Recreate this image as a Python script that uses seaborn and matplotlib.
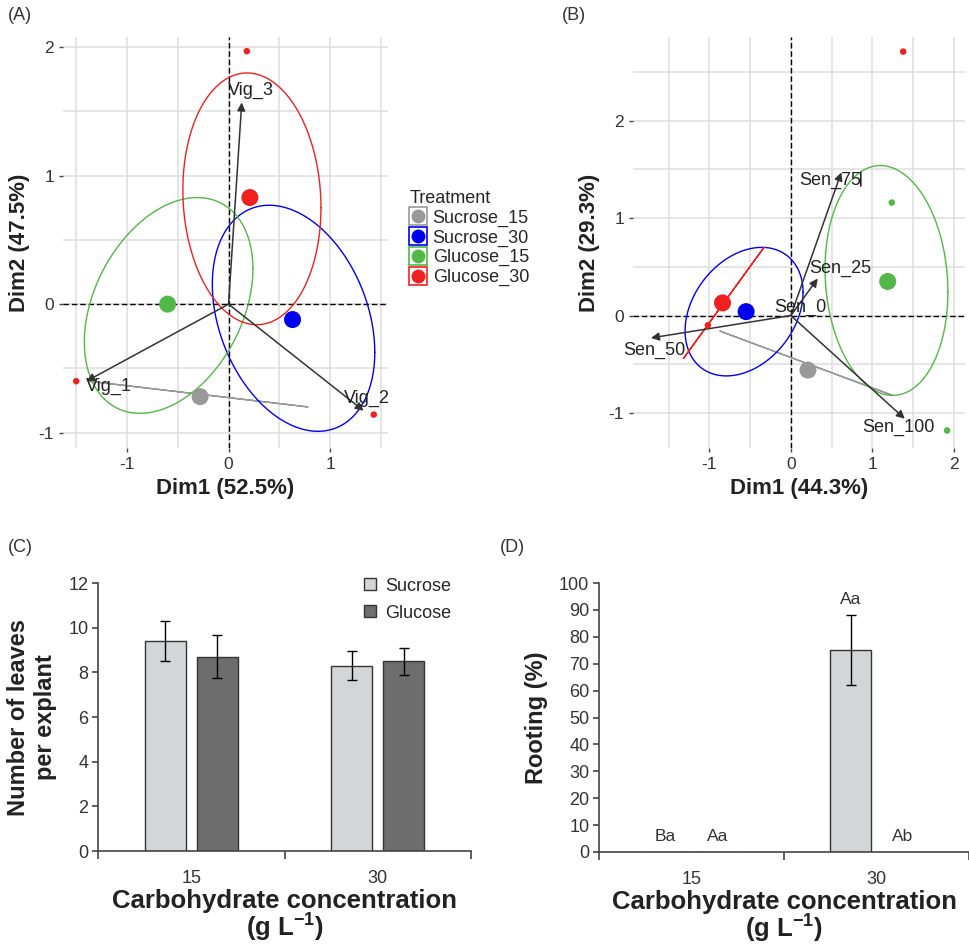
import numpy as np
import pandas as pd
import matplotlib.pyplot as plt
import seaborn as sns
from matplotlib.lines import Line2D
from matplotlib.ticker import MultipleLocator, FixedLocator

sns.set_theme(style="white")
plt.rcParams['font.family'] = ['Liberation Sans', 'DejaVu Sans']
plt.rcParams['mathtext.default'] = 'regular'
plt.rcParams['axes.unicode_minus'] = False

# treatments / colours shared by the PCA panels
treatments = ["Sucrose_15", "Sucrose_30", "Glucose_15", "Glucose_30"]
trt_colors = ["#999999", "#0000f0", "#52b848", "#f02020"]

# panel A - PCA (vigour)
a_mean_x = [-0.28, 0.63, -0.60, 0.21]
a_mean_y = [-0.72, -0.12, 0.00, 0.83]
a_obs_trt = ["Glucose_30", "Glucose_30", "Glucose_30"]
a_obs_x = [0.18, -1.50, 1.43]
a_obs_y = [1.97, -0.60, -0.86]
a_var_names = ["Vig_1", "Vig_2", "Vig_3"]
a_var_x = [-1.40, 1.33, 0.13]
a_var_y = [-0.60, -0.83, 1.57]
# concentration ellipses: centre, half range in x / y, correlation
a_ell_cx = [-0.30, 0.64, -0.59, 0.23]
a_ell_cy = [-0.70, -0.11, -0.01, 0.82]
a_ell_sx = [1.08, 0.80, 0.83, 0.68]
a_ell_sy = [0.10, 0.88, 0.84, 0.98]
a_ell_r = [-1.0, -0.30, 0.34, -0.07]

# panel B - PCA (senescence)
b_mean_x = [0.21, -0.55, 1.19, -0.84]
b_mean_y = [-0.56, 0.04, 0.35, 0.13]
b_obs_trt = ["Glucose_15", "Glucose_15", "Glucose_30", "Glucose_30"]
b_obs_x = [1.24, 1.92, 1.38, -1.02]
b_obs_y = [1.16, -1.18, 2.71, -0.10]
b_var_names = ["Sen_0", "Sen_25", "Sen_50", "Sen_75", "Sen_100"]
b_var_x = [0.0, 0.33, -1.72, 0.62, 1.40]
b_var_y = [0.0, 0.38, -0.23, 1.47, -1.06]
b_ell_cx = [0.19, -0.575, 1.175, -0.825]
b_ell_cy = [-0.49, 0.04, 0.36, 0.13]
b_ell_sx = [1.06, 0.725, 0.755, 0.495]
b_ell_sy = [0.33, 0.66, 1.18, 0.57]
b_ell_r = [-1.0, 0.30, -0.10, 1.0]

# panel C / D - bar charts
conc = ["15", "30"]
sugars = ["Sucrose", "Glucose"]
sugar_colors = ["#d4d5d7", "#6e6d6e"]
leaves_sucrose = [9.4, 8.3]
leaves_glucose = [8.7, 8.5]
leaves_err_sucrose = [0.9, 0.65]
leaves_err_glucose = [0.95, 0.6]
rooting_sucrose = [0, 75]
rooting_glucose = [0, 0]
rooting_err_sucrose = [0, 13]
rooting_err_glucose = [0, 0]
rooting_letters_sucrose = ["Ba", "Aa"]
rooting_letters_glucose = ["Aa", "Ab"]

fig = plt.figure(figsize=(9.7, 9.49), dpi=100)
W, H = 970, 949


def px_axes(l, t, r, b):
    return fig.add_axes([l / W, 1 - b / H, (r - l) / W, (b - t) / H])


def pca_panel(ax, mx, my, ox, oy, otrt, vnames, vx, vy, ecx, ecy, esx, esy, er,
              xlim, ylim, xlab, ylab, lab_off):
    pal = dict(zip(treatments, trt_colors))
    ax.set_facecolor("white")
    ax.set_xlim(*xlim)
    ax.set_ylim(*ylim)
    ax.xaxis.set_major_locator(MultipleLocator(1))
    ax.yaxis.set_major_locator(MultipleLocator(1))
    ax.xaxis.set_minor_locator(MultipleLocator(0.5))
    ax.yaxis.set_minor_locator(MultipleLocator(0.5))
    ax.grid(True, which="both", color="#dedede", lw=1.1)
    ax.set_axisbelow(True)
    for s in ax.spines.values():
        s.set_visible(False)
    ax.tick_params(axis="both", which="major", length=3, width=1, color="#444",
                   labelsize=12.5, labelcolor="#333", bottom=True, left=True)
    ax.tick_params(axis="both", which="minor", length=0)
    ax.axhline(0, color="black", lw=1, ls=(0, (4, 2)), zorder=1)
    ax.axvline(0, color="black", lw=1, ls=(0, (4, 2)), zorder=1)

    t = np.linspace(0, 2 * np.pi, 300)
    for i, trt in enumerate(treatments):
        r = er[i]
        ex = ecx[i] + esx[i] * np.cos(t)
        ey = ecy[i] + esy[i] * (r * np.cos(t) + np.sqrt(max(0, 1 - r * r)) * np.sin(t))
        ax.plot(ex, ey, color=pal[trt], lw=1.0, zorder=2)

    for name, x, y in zip(vnames, vx, vy):
        if abs(x) + abs(y) > 0.05:
            ax.annotate("", xy=(x, y), xytext=(0, 0),
                        arrowprops=dict(arrowstyle="-|>", color="#333", lw=1.1,
                                        mutation_scale=12, shrinkA=0, shrinkB=0),
                        zorder=3)
        dx, dy = lab_off[name]
        ax.annotate(name, xy=(x, y), xytext=(dx, dy), textcoords="offset points",
                    ha="left", va="center", fontsize=13, color="#222", zorder=4)

    obs = pd.DataFrame({"x": ox, "y": oy, "trt": otrt})
    sns.scatterplot(data=obs, x="x", y="y", hue="trt", palette=pal, s=22,
                    linewidth=0, legend=False, ax=ax, zorder=5)
    means = pd.DataFrame({"x": mx, "y": my, "trt": treatments})
    sns.scatterplot(data=means, x="x", y="y", hue="trt", palette=pal, s=150,
                    linewidth=0, legend=False, ax=ax, zorder=6)
    ax.set_xlabel(xlab, fontsize=16, fontweight="bold", color="#222", labelpad=4)
    ax.set_ylabel(ylab, fontsize=16, fontweight="bold", color="#222", labelpad=6)


axA = px_axes(63, 37, 388, 448)
pca_panel(axA, a_mean_x, a_mean_y, a_obs_x, a_obs_y, a_obs_trt,
          a_var_names, a_var_x, a_var_y,
          a_ell_cx, a_ell_cy, a_ell_sx, a_ell_sy, a_ell_r,
          (-1.63, 1.57), (-1.12, 2.08), "Dim1 (52.5%)", "Dim2 (47.5%)",
          {"Vig_1": (0, -4), "Vig_2": (-14, 9), "Vig_3": (-10, 9)})

axB = px_axes(633, 37, 965, 448)
pca_panel(axB, b_mean_x, b_mean_y, b_obs_x, b_obs_y, b_obs_trt,
          b_var_names, b_var_x, b_var_y,
          b_ell_cx, b_ell_cy, b_ell_sx, b_ell_sy, b_ell_r,
          (-1.94, 2.14), (-1.36, 2.86), "Dim1 (44.3%)", "Dim2 (29.3%)",
          {"Sen_0": (-12, 6), "Sen_25": (-6, 7), "Sen_50": (-20, -9),
           "Sen_75": (-30, -6), "Sen_100": (-31, -6.5)})
axB.annotate("", xy=(0.86, 1.50), xytext=(0.86, 1.30),
             arrowprops=dict(arrowstyle="-", color="black", lw=1))

# treatment legend between the two PCA panels
handles = [(Line2D([], [], marker="s", ls="", ms=13, mfc="white", mec=c, mew=1.2),
            Line2D([], [], marker="o", ls="", ms=9, mfc=c, mec=c))
           for c in trt_colors]
fig.legend(handles, treatments, title="Treatment", loc="upper left",
           bbox_to_anchor=(402 / W, 1 - 183 / H), frameon=False, fontsize=13,
           title_fontsize=13, alignment="left", handlelength=1.0,
           handletextpad=0.3, labelspacing=0.14, borderaxespad=0)


def bar_panel(ax, suc, glu, esuc, eglu, ymax, ystep, ylab, legend):
    df = pd.DataFrame({"conc": conc * 2, "sugar": ["Sucrose"] * 2 + ["Glucose"] * 2,
                       "val": suc + glu})
    sns.barplot(data=df, x="conc", y="val", hue="sugar", hue_order=sugars,
                palette=sugar_colors, width=0.56, gap=0.21, edgecolor="#333",
                linewidth=1, errorbar=None, ax=ax, legend=legend, zorder=2)
    for cont, errs in zip(ax.containers, [esuc, eglu]):
        for bar, e in zip(cont, errs):
            if e > 0:
                ax.errorbar(bar.get_x() + bar.get_width() / 2, bar.get_height(),
                            yerr=e, color="black", lw=1, capsize=3.5,
                            capthick=1, zorder=3)
    ax.set_facecolor("white")
    ax.set_xlim(-0.5, 1.5)
    ax.set_ylim(0, ymax)
    ax.yaxis.set_major_locator(MultipleLocator(ystep))
    ax.xaxis.set_minor_locator(FixedLocator([-0.5, 0.5, 1.5]))
    for s in ["top", "right"]:
        ax.spines[s].set_visible(False)
    for s in ["left", "bottom"]:
        ax.spines[s].set_color("#444")
        ax.spines[s].set_linewidth(1.2)
    ax.tick_params(axis="y", length=4, width=1.2, color="#444", labelsize=13,
                   labelcolor="#333", left=True, pad=3)
    ax.tick_params(axis="x", which="major", length=0, labelsize=13,
                   labelcolor="#333", pad=14)
    ax.tick_params(axis="x", which="minor", length=6, width=1.2, color="#444",
                   bottom=True)
    ax.set_xlabel("Carbohydrate concentration\n(g L$^{-1}$)", fontsize=18.5,
                  fontweight="bold", color="#222", labelpad=1, linespacing=0.95)
    ax.set_ylabel(ylab, fontsize=17, fontweight="bold", color="#222", labelpad=8)


axC = px_axes(98, 583, 471, 851)
bar_panel(axC, leaves_sucrose, leaves_glucose, leaves_err_sucrose,
          leaves_err_glucose, 12, 2, "Number of leaves\nper explant", True)
axC.legend(loc="upper right", bbox_to_anchor=(0.99, 1.08), frameon=False,
           fontsize=13, handlelength=0.65, handleheight=0.65,
           handletextpad=0.5, labelspacing=0.55)

axD = px_axes(599, 583, 969, 852)
bar_panel(axD, rooting_sucrose, rooting_glucose, rooting_err_sucrose,
          rooting_err_glucose, 100, 10, "Rooting (%)", False)
for cont, errs, letters in zip(axD.containers,
                               [rooting_err_sucrose, rooting_err_glucose],
                               [rooting_letters_sucrose, rooting_letters_glucose]):
    for bar, e, lt in zip(cont, errs, letters):
        axD.text(bar.get_x() + bar.get_width() / 2, bar.get_height() + e + 3, lt,
                 ha="center", va="bottom", fontsize=12.5, color="#333")

for lab, x, y in [("(A)", 8, 15), ("(B)", 562, 15), ("(C)", 8, 548), ("(D)", 500, 548)]:
    fig.text(x / W, 1 - y / H, lab, fontsize=13, color="#333", va="center", ha="left")

fig.savefig("out.png", dpi=100)
